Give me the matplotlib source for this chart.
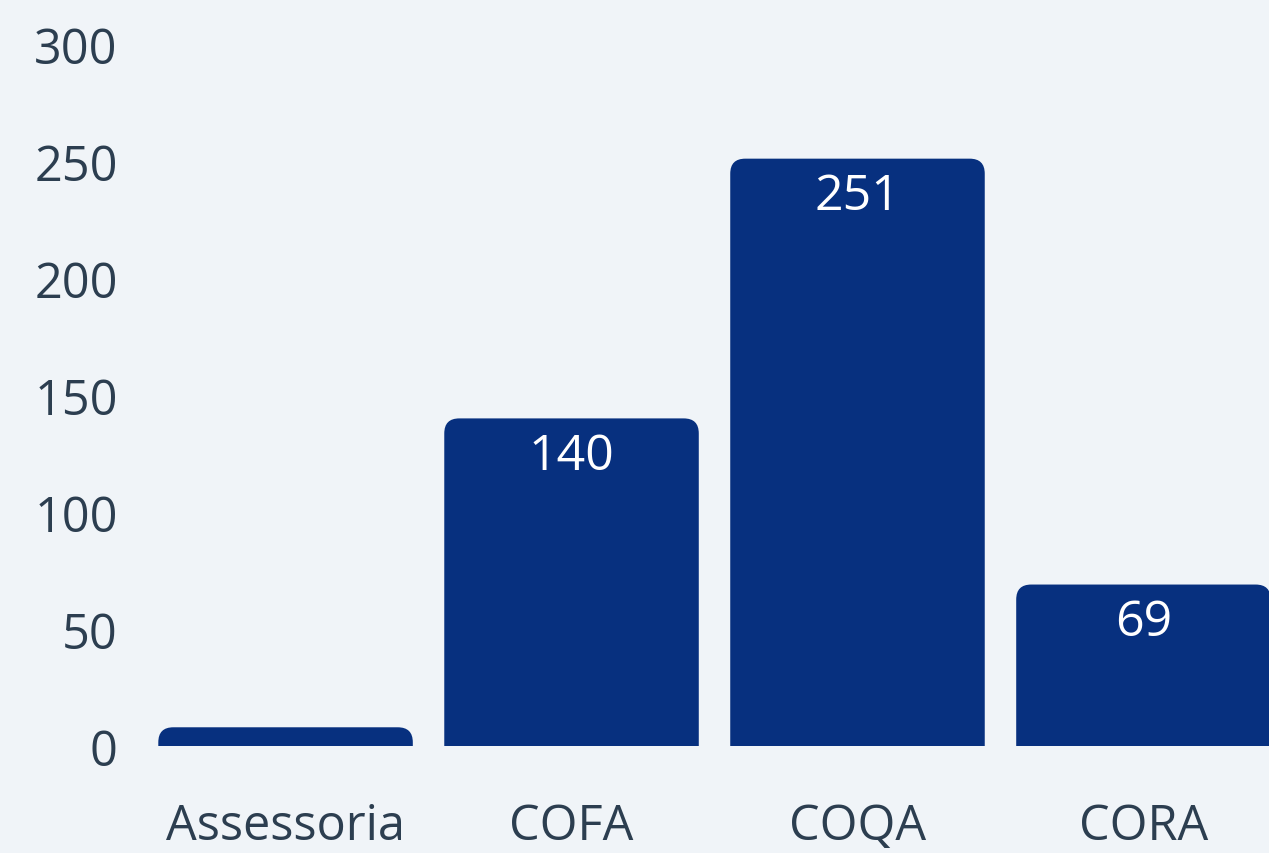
import matplotlib
matplotlib.use("Agg")
import matplotlib.pyplot as plt
from matplotlib.patches import FancyBboxPatch

categories = ["Assessoria", "COFA", "COQA", "CORA"]
counts = [8, 140, 251, 69]
show_label = [False, True, True, True]

BG = "#f0f4f8"
BAR = "#07307f"
TEXT = "#2c3e50"

plt.rcParams["font.family"] = ["Open Sans", "DejaVu Sans"]

W, H, DPI = 1269, 854, 100
fig = plt.figure(figsize=(W / DPI, H / DPI), dpi=DPI, facecolor=BG)
ax = fig.add_axes([140 / W, 107 / H, (W - 140) / W, 702 / H])
ax.set_facecolor(BG)

xlim = (-0.509, 3.439)
ylim = (0, 300)
ax.set_xlim(*xlim)
ax.set_ylim(*ylim)

# rounded tops: box extends below zero and gets clipped by the axes
x_per_px = (xlim[1] - xlim[0]) / (W - 140)
y_per_px = (ylim[1] - ylim[0]) / 702
aspect = y_per_px / x_per_px
radius = 15 * x_per_px
width = 0.89

bars = ax.bar(range(len(categories)), counts, width=width, color="none")
for rect, val, lab in zip(bars, counts, show_label):
    x0 = rect.get_x()
    ext = radius * aspect
    patch = FancyBboxPatch((x0, -ext), rect.get_width(), val + ext,
                           boxstyle=f"round,pad=0,rounding_size={radius}",
                           mutation_aspect=aspect, facecolor=BAR,
                           edgecolor="none")
    ax.add_patch(patch)
    if lab:
        ax.annotate(str(val), (x0 + rect.get_width() / 2, val),
                    xytext=(0, -27), textcoords="offset points",
                    ha="center", va="center", color="white", fontsize=36)

ax.set_xticks(range(len(categories)))
ax.set_xticklabels(categories)
ax.set_yticks([0, 50, 100, 150, 200, 250, 300])
ax.tick_params(axis="both", length=0, labelsize=35, labelcolor=TEXT)
ax.tick_params(axis="y", pad=16)
ax.tick_params(axis="x", pad=40)
for s in ax.spines.values():
    s.set_visible(False)

fig.savefig("out.png", dpi=DPI, facecolor=BG)
